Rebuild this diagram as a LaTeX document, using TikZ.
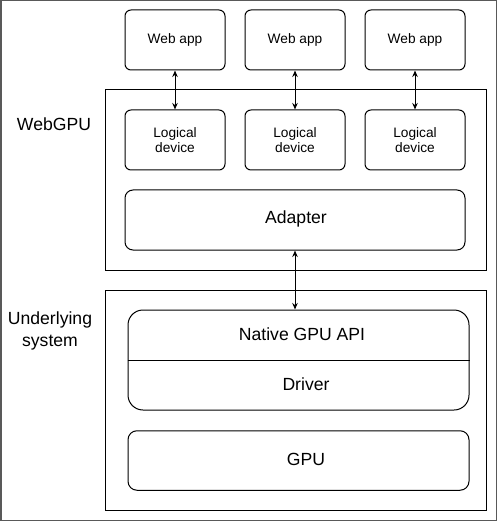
\documentclass[tikz,border=0pt]{standalone}
\usepackage{fontspec}
\setmainfont{Liberation Sans}
\usetikzlibrary{arrows.meta}
\begin{document}
\begin{tikzpicture}[x=1pt,y=-1pt,
  box/.style={draw=black,line width=1pt,rounded corners=6pt,minimum width=100pt,minimum height=60pt,inner sep=0pt,align=center,font=\fontsize{13.7}{15.5}\selectfont},
  bigbox/.style={draw=black,line width=1pt,inner sep=0pt},
  bigtxt/.style={font=\fontsize{17.6}{22}\selectfont,align=center,inner sep=0pt},
  conn/.style={line width=1pt,{Stealth[length=6.5pt,width=5.5pt]}-{Stealth[length=6.5pt,width=5.5pt]}}]
\useasboundingbox (0,0) rectangle (497,521);
\draw[draw=black!65,line width=1.5pt] (0.75,0.75) rectangle (496.25,520.25);
% frames
\node[bigbox,minimum width=381pt,minimum height=180pt] (webgpu) at (295.5,180) {};
\node[bigbox,minimum width=381pt,minimum height=220pt] (under) at (295.5,400) {};
% top boxes
\node[box] (w1) at (175,40) {Web app};
\node[box] (w2) at (295,40) {Web app};
\node[box] (w3) at (415,40) {Web app};
\node[box] (l1) at (175,140) {Logical\\device};
\node[box] (l2) at (295,140) {Logical\\device};
\node[box] (l3) at (415,140) {Logical\\device};
\node[box,minimum width=340pt,rounded corners=8pt] (adapter) at (295,220) {};
\node[bigtxt] (adaptertxt) at (296,219) {Adapter};
% lower boxes
\node[box,minimum width=341pt,minimum height=100pt,rounded corners=15pt] (native) at (298.5,360) {};
\draw[line width=1pt] (native.west) -- (native.east);
\node[bigtxt] (nativetxt) at (302,334) {Native GPU API};
\node[bigtxt] (drivertxt) at (306,384) {Driver};
\node[box,minimum width=341pt,minimum height=59.5pt,rounded corners=9pt] (gpu) at (298.5,460.5) {};
\node[bigtxt] (gputxt) at (306,459) {GPU};
% side labels
\node[bigtxt] (lwebgpu) at (54,124) {WebGPU};
\node[bigtxt] (lunder) at (50,331) {Underlying\\system};
% connectors
\draw[conn] (w1) -- (l1);
\draw[conn] (w2) -- (l2);
\draw[conn] (w3) -- (l3);
\draw[conn] (adapter.south) -- (adapter.south |- native.north);
\end{tikzpicture}
\end{document}
